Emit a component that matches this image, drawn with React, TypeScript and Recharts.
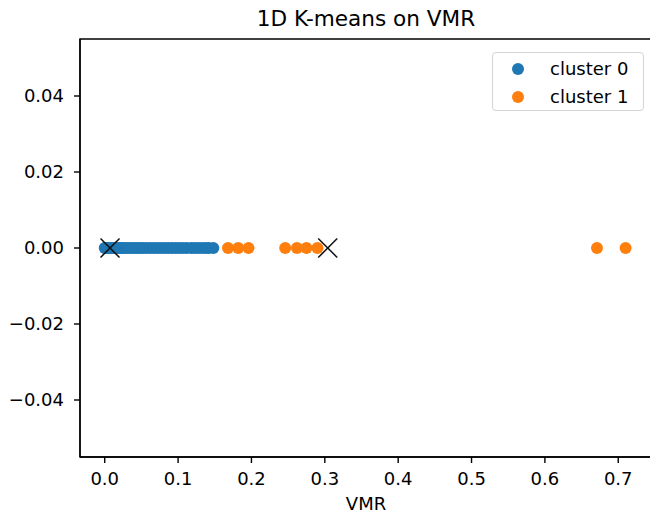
import React from 'react';
import { ScatterChart, Scatter, XAxis, YAxis, ReferenceArea } from 'recharts';

const cluster0Vmr: number[] = [
  0.0, 0.001, 0.002, 0.003, 0.004, 0.005, 0.006, 0.007, 0.008, 0.01, 0.012, 0.014,
  0.016, 0.019, 0.022, 0.025, 0.028, 0.032, 0.036, 0.04, 0.044, 0.048, 0.052, 0.057,
  0.062, 0.067, 0.072, 0.077, 0.082, 0.087, 0.092, 0.097, 0.102, 0.107, 0.112, 0.118,
  0.123, 0.128, 0.133, 0.138, 0.142, 0.148,
];
const cluster1Vmr: number[] = [0.168, 0.182, 0.196, 0.246, 0.262, 0.275, 0.29, 0.671, 0.71];
const centroidVmr: number[] = [0.0072, 0.304];

const seriesNames: string[] = ['cluster 0', 'cluster 1'];
const xTicks: number[] = [0, 0.1, 0.2, 0.3, 0.4, 0.5, 0.6, 0.7];
const yTicks: number[] = [-0.04, -0.02, 0, 0.02, 0.04];
const xDomain: [number, number] = [-0.0337, 0.746];
const yDomain: [number, number] = [-0.055, 0.055];

const BLUE = '#1f77b4';
const ORANGE = '#ff7f0e';
const COLORS = [BLUE, ORANGE];
const FONT = '"DejaVu Sans", sans-serif';

const toPoints = (arr: number[]) => arr.map((v) => ({ vmr: v, y: 0 }));

const dot = (color: string) => (props: any) => (
  <circle cx={props.cx} cy={props.cy} r={6} fill={color} />
);

const xMark = (props: any) => {
  const { cx, cy } = props;
  const h = 9.5;
  return (
    <g stroke="#111" strokeWidth={1.5}>
      <line x1={cx - h} y1={cy - h} x2={cx + h} y2={cy + h} />
      <line x1={cx - h} y1={cy + h} x2={cx + h} y2={cy - h} />
    </g>
  );
};

const fmtY = (v: number) => (v < 0 ? '\u2212' : '') + Math.abs(v).toFixed(2);
const fmtX = (v: number) => v.toFixed(1);

const LegendBox = () => (
  <div
    style={{
      position: 'absolute',
      left: 492,
      top: 52,
      width: 152,
      height: 59,
      boxSizing: 'border-box',
      border: '1px solid #d4d4d4',
      borderRadius: 4,
      background: 'rgba(255,255,255,0.8)',
      fontFamily: FONT,
      fontSize: 18,
      color: '#000',
    }}
  >
    {seriesNames.map((name, i) => (
      <div key={name} style={{ position: 'absolute', left: 0, top: 15.5 + i * 28.4 - 10, height: 20, width: '100%' }}>
        <div
          style={{
            position: 'absolute',
            left: 19,
            top: 4,
            width: 12,
            height: 12,
            borderRadius: 6,
            background: COLORS[i],
          }}
        />
        <div style={{ position: 'absolute', left: 57, top: 0, lineHeight: '20px', whiteSpace: 'nowrap' }}>{name}</div>
      </div>
    ))}
  </div>
);

export default function App() {
  return (
    <div style={{ position: 'relative', width: 650, height: 518, overflow: 'hidden' }}>
      <style>{'body{margin:0;overflow:hidden}'}</style>
      <div
        style={{
          position: 'absolute',
          left: 80,
          width: 572,
          top: 6,
          textAlign: 'center',
          fontFamily: FONT,
          fontSize: 21.6,
          lineHeight: '26px',
          color: '#000',
        }}
      >
        1D K-means on VMR
      </div>
      <ScatterChart width={650} height={518} margin={{ top: 39, right: -2, bottom: 0, left: 0 }}>
        <XAxis
          type="number"
          dataKey="vmr"
          domain={xDomain}
          ticks={xTicks}
          tickFormatter={fmtX}
          allowDataOverflow
          height={61}
          tickSize={6}
          tickMargin={9}
          axisLine={{ stroke: '#000', strokeWidth: 1.4 }}
          tickLine={{ stroke: '#000', strokeWidth: 1.4 }}
          tick={{ fill: '#000', fontFamily: FONT, fontSize: 18 }}
          label={{ value: 'VMR', position: 'insideBottom', offset: 8, fill: '#000', fontFamily: FONT, fontSize: 18 }}
        />
        <YAxis
          type="number"
          dataKey="y"
          domain={yDomain}
          ticks={yTicks}
          tickFormatter={fmtY}
          allowDataOverflow
          width={80}
          tickSize={6}
          tickMargin={10}
          axisLine={{ stroke: '#000', strokeWidth: 1.4 }}
          tickLine={{ stroke: '#000', strokeWidth: 1.4 }}
          tick={{ fill: '#000', fontFamily: FONT, fontSize: 18 }}
        />
        <ReferenceArea
          x1={xDomain[0]}
          x2={xDomain[1]}
          y1={yDomain[0]}
          y2={yDomain[1]}
          fill="none"
          stroke="#000"
          strokeWidth={1.4}
          ifOverflow="visible"
        />
        <Scatter name={seriesNames[0]} data={toPoints(cluster0Vmr)} fill={BLUE} shape={dot(BLUE)} isAnimationActive={false} />
        <Scatter name={seriesNames[1]} data={toPoints(cluster1Vmr)} fill={ORANGE} shape={dot(ORANGE)} isAnimationActive={false} />
        <Scatter name="centroids" data={toPoints(centroidVmr)} fill="#111" shape={xMark} legendType="none" isAnimationActive={false} />
      </ScatterChart>
      <LegendBox />
    </div>
  );
}
